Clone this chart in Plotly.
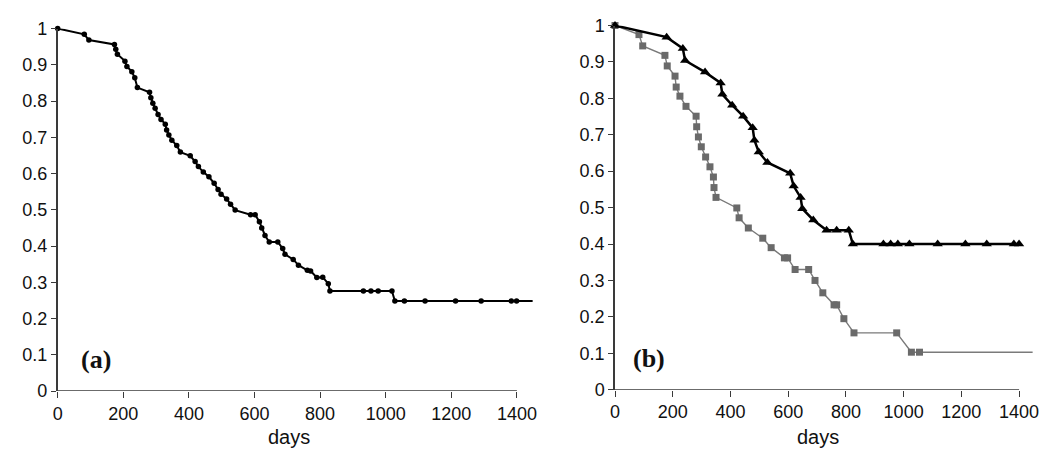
import plotly.graph_objects as go

# ---------------- data ----------------
# panel (a): overall survival curve
a_days = [0, 81, 95, 173, 177, 182, 205, 211, 226, 235, 243, 280, 284, 290, 297, 306,
          315, 328, 332, 339, 348, 363, 374, 404, 419, 429, 444, 461, 477, 489, 498,
          515, 527, 541, 588, 602, 615, 622, 632, 645, 671, 686, 693, 718, 734, 761,
          771, 790, 808, 825, 830, 932, 955, 977, 1019, 1028, 1057, 1120, 1213, 1291,
          1383, 1399, 1448]
a_surv = [1.0, 0.984, 0.968, 0.956, 0.943, 0.929, 0.910, 0.895, 0.881, 0.864, 0.837,
          0.824, 0.809, 0.794, 0.780, 0.763, 0.749, 0.736, 0.720, 0.706, 0.692, 0.677,
          0.659, 0.649, 0.633, 0.619, 0.604, 0.591, 0.573, 0.556, 0.543, 0.530, 0.515,
          0.499, 0.486, 0.486, 0.467, 0.450, 0.429, 0.411, 0.411, 0.393, 0.377, 0.363,
          0.347, 0.333, 0.331, 0.313, 0.314, 0.296, 0.276, 0.276, 0.276, 0.276, 0.276,
          0.248, 0.248, 0.248, 0.248, 0.248, 0.248, 0.248, 0.248]

# panel (b): group with triangles (black)
b1_days = [0, 179, 235, 243, 312, 366, 372, 406, 444, 477, 483, 498, 528, 607, 619,
           643, 649, 687, 733, 768, 810, 824, 930, 955, 980, 1020, 1118, 1214, 1288,
           1382, 1400]
b1_surv = [1.0, 0.968, 0.937, 0.904, 0.872, 0.842, 0.811, 0.781, 0.751, 0.719, 0.685,
           0.653, 0.624, 0.594, 0.559, 0.528, 0.497, 0.466, 0.438, 0.438, 0.438, 0.400,
           0.400, 0.400, 0.400, 0.400, 0.400, 0.400, 0.400, 0.400, 0.400]

# panel (b): group with squares (grey)
b2_days = [0, 83, 96, 173, 181, 208, 212, 225, 246, 281, 283, 289, 299, 314, 329, 341,
           343, 350, 422, 430, 462, 512, 541, 587, 598, 624, 671, 693, 720, 759, 768,
           793, 828, 976, 1027, 1055, 1447]
b2_surv = [1.0, 0.975, 0.944, 0.918, 0.889, 0.861, 0.831, 0.806, 0.778, 0.751, 0.722,
           0.694, 0.667, 0.639, 0.612, 0.584, 0.555, 0.528, 0.499, 0.472, 0.444, 0.416,
           0.390, 0.362, 0.362, 0.330, 0.330, 0.300, 0.266, 0.233, 0.233, 0.195, 0.156,
           0.156, 0.103, 0.103, 0.103]

x_ticks = [0, 200, 400, 600, 800, 1000, 1200, 1400]
y_ticks = [0, 0.1, 0.2, 0.3, 0.4, 0.5, 0.6, 0.7, 0.8, 0.9, 1]
y_ticktext = ["0", "0.1", "0.2", "0.3", "0.4", "0.5", "0.6", "0.7", "0.8", "0.9", "1"]
x_title = "days"
panel_labels = ["(a)", "(b)"]

W, H = 1050, 457
OFF = 8  # page body margin in the browser shifts the figure by this much
SANS = "Liberation Sans, Arial, Helvetica, sans-serif"
SERIF = "Liberation Serif, Times New Roman, serif"
AXC = "#3a3a3a"


def px_x(p):
    return (p - OFF) / W


def px_y(p):
    return 1 - (p - OFF) / H


fig = go.Figure()

# panel (a)
fig.add_trace(go.Scatter(x=a_days, y=a_surv, mode="lines", line=dict(color="black", width=2),
                         xaxis="x", yaxis="y", hoverinfo="skip", showlegend=False))
fig.add_trace(go.Scatter(x=a_days[:-1], y=a_surv[:-1], mode="markers",
                         marker=dict(symbol="circle", size=5.5, color="black"),
                         xaxis="x", yaxis="y", cliponaxis=False, showlegend=False))

# panel (b)
fig.add_trace(go.Scatter(x=b2_days, y=b2_surv, mode="lines", line=dict(color="#7a7a7a", width=1.4),
                         xaxis="x2", yaxis="y2", hoverinfo="skip", showlegend=False))
fig.add_trace(go.Scatter(x=b2_days[:-1], y=b2_surv[:-1], mode="markers",
                         marker=dict(symbol="square", size=7, color="#6a6a6a"),
                         xaxis="x2", yaxis="y2", cliponaxis=False, showlegend=False))
fig.add_trace(go.Scatter(x=b1_days, y=b1_surv, mode="lines+markers",
                         line=dict(color="black", width=2.5),
                         marker=dict(symbol="triangle-up", size=9, color="black"),
                         xaxis="x2", yaxis="y2", cliponaxis=False, showlegend=False))


def xax(domain, anchor):
    return dict(domain=domain, anchor=anchor, range=[0, 1450], tickmode="array",
                tickvals=x_ticks, ticktext=[str(v) for v in x_ticks],
                ticks="outside", ticklen=6, tickwidth=1.3, tickcolor=AXC,
                showline=False, showgrid=False, zeroline=False, automargin=False,
                tickfont=dict(family=SANS, size=18, color="#111"))


def yax(domain, anchor):
    return dict(domain=domain, anchor=anchor, range=[0, 1], tickmode="array",
                tickvals=y_ticks, ticktext=y_ticktext,
                ticks="outside", ticklen=5, tickwidth=1.3, tickcolor=AXC,
                showline=True, linecolor=AXC, linewidth=1.5,
                showgrid=False, zeroline=False, automargin=False,
                tickfont=dict(family=SANS, size=18, color="#111"))


fig.update_layout(
    template="none",
    width=W, height=H, margin=dict(l=0, r=0, t=0, b=0, pad=0),
    paper_bgcolor="white", plot_bgcolor="white",
    xaxis=xax([px_x(57.7), px_x(533.3)], "y"),
    yaxis=yax([px_y(391), px_y(28.5)], "x"),
    xaxis2=xax([px_x(615), px_x(1033.5)], "y2"),
    yaxis2=yax([px_y(389.7), px_y(25.5)], "x2"),
)

# x axis lines that stop at the last tick
for xr, yr in (("x", "y"), ("x2", "y2")):
    fig.add_shape(type="line", xref=xr, yref=yr, x0=0, x1=x_ticks[-1], y0=0, y1=0,
                  line=dict(color=AXC, width=1.5))

# axis titles
for xr in ("x", "x2"):
    fig.add_annotation(text=x_title, xref=xr, x=705, yref="paper", y=px_y(436.5),
                       showarrow=False, xanchor="center", yanchor="middle",
                       font=dict(family=SANS, size=20, color="#111"))

# panel labels
for txt, px, py in ((panel_labels[0], 96, 359.5), (panel_labels[1], 648.5, 358.5)):
    fig.add_annotation(text="<b>" + txt + "</b>", xref="paper", yref="paper",
                       x=px_x(px), y=px_y(py), showarrow=False,
                       xanchor="center", yanchor="middle",
                       font=dict(family=SERIF, size=26, color="#111"))

fig.write_html("out.html")
